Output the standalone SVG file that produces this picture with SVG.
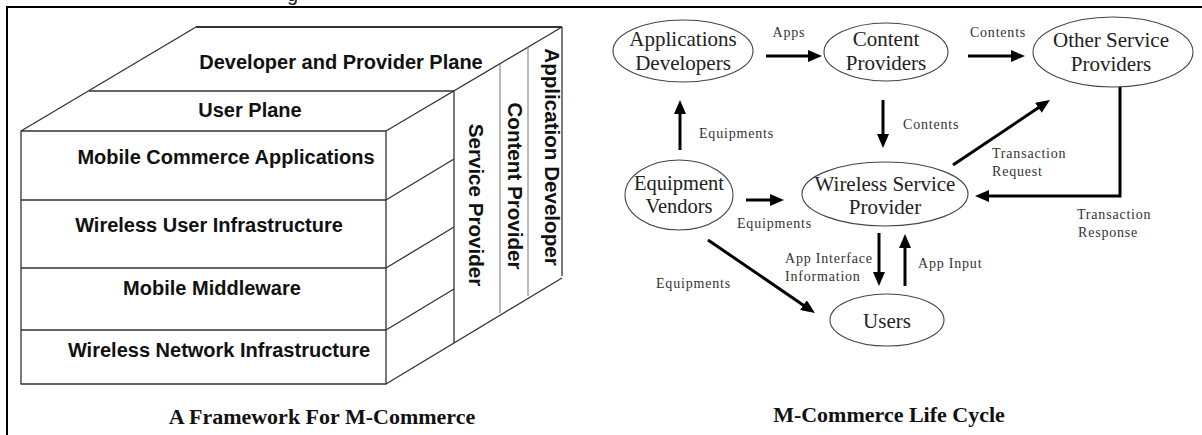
<svg xmlns="http://www.w3.org/2000/svg" width="1202" height="435" viewBox="0 0 1202 435">
  <style>
    .frame { stroke: #000; stroke-width: 2; fill: none; }
    .cube { stroke: #333; stroke-width: 1.3; fill: none; stroke-linejoin: round; }
    .cube-thin { stroke: #777; stroke-width: 1; fill: none; }
    .layer { font-family: "Liberation Sans", Arial, sans-serif; font-weight: bold; font-size: 20px; fill: #111; text-anchor: middle; }
    .panel { font-size: 20.6px; }
    .caption { font-family: "Liberation Serif", "Times New Roman", serif; font-weight: bold; font-size: 22px; fill: #111; text-anchor: middle; }
    .node ellipse { fill: #fff; stroke: #444; stroke-width: 1.1; }
    .node text { font-family: "Liberation Serif", "Times New Roman", serif; font-size: 21px; fill: #222; text-anchor: middle; }
    .edge { stroke: #000; stroke-width: 3; fill: none; marker-end: url(#ah); }
    .elabel { font-family: "Liberation Serif", "Times New Roman", serif; font-size: 14px; letter-spacing: 0.8px; fill: #333; }
  </style>
  <defs>
    <marker id="ah" viewBox="0 0 14 12" refX="4" refY="6" markerWidth="14" markerHeight="12" markerUnits="userSpaceOnUse" orient="auto">
      <path d="M0,0 L14,6 L0,12 z" fill="#000"/>
    </marker>
  </defs>

  <rect width="1202" height="435" fill="#fff"/>

  <!-- cropped heading above the frame -->
  <text x="287" y="1" style="font-family:'Liberation Sans',Arial,sans-serif;font-size:20px;fill:#222">g</text>

  <!-- outer frame (top and left edges only) -->
  <path class="frame" d="M7,435 V7 H1202"/>

  <!-- ===== Framework cube ===== -->
  <g id="cube">
    <!-- front face with layer rows -->
    <rect class="cube" x="21" y="131" width="365" height="253"/>
    <path class="cube" d="M21,200 H386 M21,268 H386 M21,330 H386"/>
    <!-- top planes -->
    <path class="cube" d="M21,131 L196,27"/>
    <path class="cube" d="M196,27 H562" style="stroke-width:2.2"/>
    <path class="cube" d="M89,91 H454"/>
    <path class="cube" d="M562,27 L386,131"/>
    <!-- side face row edges -->
    <path class="cube" d="M386,200 L454,159 M386,268 L454,227 M386,330 L454,289"/>
    <!-- provider panels -->
    <path class="cube" d="M454,91 V343"/>
    <path class="cube-thin" d="M500,64 V313 M528,47 V296"/>
    <path class="cube" d="M562,27 V276"/>
    <path class="cube" d="M386,384 L562,278"/>
  </g>

  <g id="plane-developer"><text class="layer" x="341" y="69">Developer and Provider Plane</text></g>
  <g id="plane-user"><text class="layer" x="250" y="117">User Plane</text></g>
  <g id="layer-apps"><text class="layer" x="226" y="164">Mobile Commerce Applications</text></g>
  <g id="layer-wui"><text class="layer" x="209" y="232">Wireless User Infrastructure</text></g>
  <g id="layer-middleware"><text class="layer" x="212" y="295">Mobile Middleware</text></g>
  <g id="layer-network"><text class="layer" x="219" y="357">Wireless Network Infrastructure</text></g>
  <g id="panel-service"><text class="layer panel" transform="translate(469,205) rotate(90)">Service Provider</text></g>
  <g id="panel-content"><text class="layer panel" transform="translate(508,186) rotate(90)">Content Provider</text></g>
  <g id="panel-appdev"><text class="layer panel" transform="translate(545,157) rotate(90)">Application Developer</text></g>

  <g id="caption-framework"><text class="caption" x="322" y="424">A Framework For M-Commerce</text></g>

  <!-- ===== Life cycle ===== -->
  <g id="connectors">
    <line class="edge" x1="766" y1="56" x2="812" y2="56"/>
    <line class="edge" x1="968" y1="56" x2="1015" y2="56"/>
    <line class="edge" x1="883" y1="100" x2="883" y2="138"/>
    <line class="edge" x1="680" y1="150" x2="680" y2="110"/>
    <line class="edge" x1="746" y1="200" x2="774" y2="200"/>
    <line class="edge" x1="708" y1="240" x2="806.7" y2="307.4"/>
    <line class="edge" x1="879" y1="233" x2="879" y2="276"/>
    <line class="edge" x1="905" y1="286" x2="905" y2="244"/>
    <line class="edge" x1="953" y1="165" x2="1041.7" y2="105.6"/>
    <polyline class="edge" points="1120,87 1120,196 985,196"/>

    <text class="elabel" x="789" y="37" text-anchor="middle">Apps</text>
    <text class="elabel" x="998" y="37" text-anchor="middle">Contents</text>
    <text class="elabel" x="903" y="129">Contents</text>
    <text class="elabel" x="699" y="138">Equipments</text>
    <text class="elabel" x="737" y="228">Equipments</text>
    <text class="elabel" x="656" y="288">Equipments</text>
    <text class="elabel" x="785" y="263">App Interface</text>
    <text class="elabel" x="785" y="281">Information</text>
    <text class="elabel" x="918" y="268">App Input</text>
    <text class="elabel" x="992" y="158">Transaction</text>
    <text class="elabel" x="992" y="176">Request</text>
    <text class="elabel" x="1077" y="219">Transaction</text>
    <text class="elabel" x="1078" y="237">Response</text>
  </g>

  <g id="node-appdev" class="node">
    <ellipse cx="683" cy="51" rx="70" ry="31"/>
    <text x="683" y="46">Applications</text>
    <text x="683" y="70">Developers</text>
  </g>
  <g id="node-content" class="node">
    <ellipse cx="886" cy="52" rx="62" ry="29"/>
    <text x="886" y="46">Content</text>
    <text x="886" y="70">Providers</text>
  </g>
  <g id="node-other" class="node">
    <ellipse cx="1113" cy="52" rx="80" ry="35"/>
    <text x="1111" y="47">Other Service</text>
    <text x="1111" y="71">Providers</text>
  </g>
  <g id="node-equipment" class="node">
    <ellipse cx="679" cy="195" rx="54" ry="35"/>
    <text x="679" y="190" style="font-size:20.5px">Equipment</text>
    <text x="679" y="213" style="font-size:20.5px">Vendors</text>
  </g>
  <g id="node-wsp" class="node">
    <ellipse cx="885" cy="194" rx="83" ry="32"/>
    <text x="885" y="191">Wireless Service</text>
    <text x="885" y="214">Provider</text>
  </g>
  <g id="node-users" class="node">
    <ellipse cx="887" cy="320" rx="57" ry="26"/>
    <text x="887" y="328">Users</text>
  </g>

  <g id="caption-lifecycle"><text class="caption" x="889" y="422">M-Commerce Life Cycle</text></g>
</svg>
